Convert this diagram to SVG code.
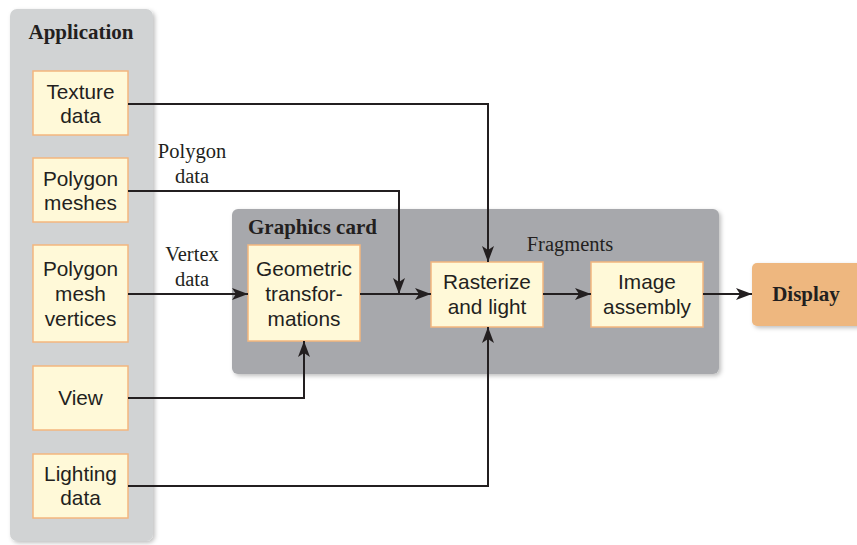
<svg xmlns="http://www.w3.org/2000/svg" width="857" height="545" viewBox="0 0 857 545">
<style>
.panel{stroke:none}
.box{fill:#fff9d8;stroke:#f4b67e;stroke-width:1.5}
.bt{font-family:"Liberation Sans",Arial,sans-serif;font-size:20.8px;fill:#231f20;text-anchor:middle}
.lbl{font-family:"Liberation Serif","Times New Roman",serif;font-size:20.5px;fill:#231f20;text-anchor:middle}
.ttl{font-family:"Liberation Serif","Times New Roman",serif;font-size:21px;font-weight:bold;fill:#231f20}
.wire{fill:none;stroke:#231f20;stroke-width:2;marker-end:url(#ah)}
</style>
<defs>
<marker id="ah" viewBox="0 0 16 12" refX="16" refY="6" markerWidth="16" markerHeight="12" markerUnits="userSpaceOnUse" orient="auto">
<path d="M0,0 L16,6 L0,12 L4,6 Z" fill="#231f20"/>
</marker>
<filter id="sh" x="-10%" y="-10%" width="130%" height="130%">
<feDropShadow dx="2" dy="2" stdDeviation="2" flood-color="#000" flood-opacity="0.25"/>
</filter>
</defs>
<g id="application">
<rect class="panel" x="10" y="9" width="143" height="532" rx="7" fill="#d1d3d4" filter="url(#sh)"/>
<text class="ttl" x="81" y="39" text-anchor="middle">Application</text>
</g>
<g id="graphics-card">
<rect class="panel" x="232" y="209" width="487" height="165" rx="6" fill="#a7a8ac" filter="url(#sh)"/>
<text class="ttl" x="248" y="234">Graphics card</text>
</g>
<g id="texture-data">
<rect class="box" x="33" y="71" width="95" height="64"/>
<text class="bt" x="80.5" y="99">Texture</text>
<text class="bt" x="80.5" y="123">data</text>
</g>
<g id="polygon-meshes">
<rect class="box" x="33" y="158" width="95" height="64"/>
<text class="bt" x="80.5" y="186">Polygon</text>
<text class="bt" x="80.5" y="210">meshes</text>
</g>
<g id="polygon-mesh-vertices">
<rect class="box" x="33" y="245" width="95" height="97"/>
<text class="bt" x="80.5" y="276">Polygon</text>
<text class="bt" x="80.5" y="301">mesh</text>
<text class="bt" x="80.5" y="326">vertices</text>
</g>
<g id="view">
<rect class="box" x="33" y="366" width="95" height="64"/>
<text class="bt" x="80.5" y="405">View</text>
</g>
<g id="lighting-data">
<rect class="box" x="33" y="454" width="95" height="64"/>
<text class="bt" x="80.5" y="481">Lighting</text>
<text class="bt" x="80.5" y="505">data</text>
</g>
<g id="geometric-transformations">
<rect class="box" x="248" y="245" width="112" height="96"/>
<text class="bt" x="304" y="276">Geometric</text>
<text class="bt" x="304" y="301">transfor-</text>
<text class="bt" x="304" y="326">mations</text>
</g>
<g id="rasterize-and-light">
<rect class="box" x="431" y="262" width="112" height="65"/>
<text class="bt" x="487" y="289">Rasterize</text>
<text class="bt" x="487" y="314">and light</text>
</g>
<g id="image-assembly">
<rect class="box" x="591" y="262" width="112" height="65"/>
<text class="bt" x="647" y="289">Image</text>
<text class="bt" x="647" y="314">assembly</text>
</g>
<g id="display">
<rect x="752" y="263" width="110" height="63" rx="5" fill="#eeb77f" filter="url(#sh)"/>
<text class="ttl" x="806" y="301" text-anchor="middle">Display</text>
</g>
<g id="connectors">
<path class="wire" d="M128,104 H488 V262"/>
<path class="wire" d="M128,191 H399 V294"/>
<path class="wire" d="M128,294 H248"/>
<path class="wire" d="M128,398 H304 V341"/>
<path class="wire" d="M128,486 H488 V327"/>
<path class="wire" d="M360,294 H431"/>
<path class="wire" d="M543,294 H591"/>
<path class="wire" d="M703,294 H752"/>
<text class="lbl" x="192" y="158">Polygon</text>
<text class="lbl" x="192" y="183">data</text>
<text class="lbl" x="192" y="261">Vertex</text>
<text class="lbl" x="192" y="286">data</text>
<text class="lbl" x="570" y="251">Fragments</text>
</g>
</svg>
